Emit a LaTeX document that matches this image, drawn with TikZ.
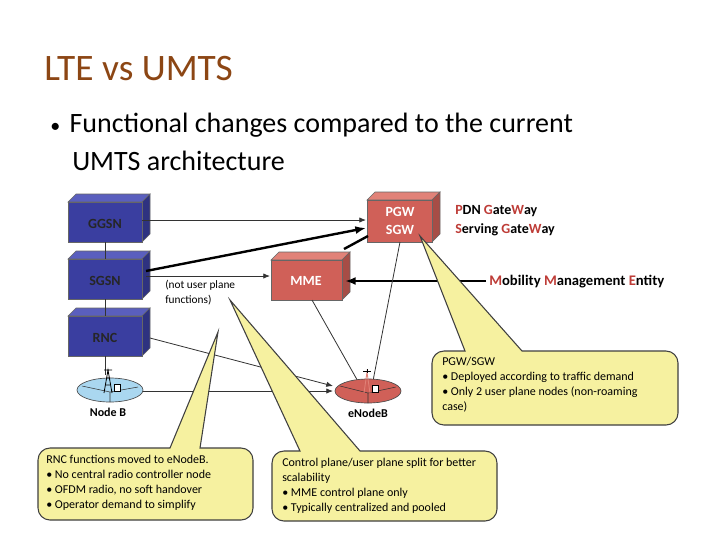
\documentclass[tikz,border=0pt]{standalone}
\usepackage{fontspec}
\setmainfont{Carlito}
\usetikzlibrary{arrows.meta}
\definecolor{titlec}{RGB}{140,70,20}
\definecolor{bluebox}{RGB}{58,62,160}
\definecolor{bluetop}{RGB}{90,95,190}
\definecolor{redbox}{RGB}{208,96,88}
\definecolor{redtop}{RGB}{225,130,120}
\definecolor{redtxt}{RGB}{190,60,55}
\definecolor{callout}{RGB}{246,241,160}
\definecolor{nodeb}{RGB}{170,215,240}
\begin{document}
\begin{tikzpicture}[x=0.75pt,y=-0.75pt,
  lbl/.style={font=\bfseries\fontsize{10.5}{12}\selectfont},
  ctext/.style={font=\fontsize{9}{11.2}\selectfont,align=left,anchor=north west,inner sep=0pt},
  co/.style={fill=callout,draw=black!75,line width=0.8pt},
  ln/.style={draw=black!80,line width=0.6pt},
  thk/.style={draw=black,line width=1.8pt},
  arr/.style={-{Latex[length=5pt,width=4pt]}}]
\useasboundingbox (0,0) rectangle (720,540);
\fill[white] (0,0) rectangle (720,540);
\node[anchor=base west,text=titlec,font=\fontsize{28}{30}\selectfont,inner sep=0pt] (title) at (44,80) {LTE vs UMTS};
\node[anchor=base west,font=\fontsize{21}{26}\selectfont,inner sep=0pt] (b1) at (50,132) {{\fontsize{15}{20}\selectfont\textbullet}\hspace{7pt}Functional changes compared to the current};
\node[anchor=base west,font=\fontsize{21}{26}\selectfont,inner sep=0pt] (b2) at (72,170) {UMTS architecture};
\newcommand{\mycube}[7]{% name,x1,y1,x2,y2,front,top
  \fill[#7,draw=black!60,line width=0.4pt] (#2,#3) -- (#2+8,#3-8) -- (#4+8,#3-8) -- (#4,#3) -- cycle;
  \fill[#6!80!black,draw=black!60,line width=0.4pt] (#4,#3) -- (#4+8,#3-8) -- (#4+8,#5-8) -- (#4,#5) -- cycle;
  \fill[#6,draw=black!60,line width=0.4pt] (#2,#3) rectangle (#4,#5);
  \coordinate (#1) at ({(#2+#4)/2},{(#3+#5)/2});}
\mycube{ggsnc}{68}{202}{142}{242}{bluebox}{bluetop}
\mycube{sgsnc}{68}{259}{142}{299}{bluebox}{bluetop}
\mycube{rncc}{68}{316}{142}{356}{bluebox}{bluetop}
\mycube{pgwc}{367}{200}{432}{242}{redbox}{redtop}
\mycube{mmec}{271}{260}{342}{300}{redbox}{redtop}
\node[lbl,text=black!85] (ggsn) at (105,224) {GGSN};
\node[lbl,text=black!85] (sgsn) at (105,281) {SGSN};
\node[lbl,text=black!85] (rnc) at (105,338) {RNC};
\node[lbl,text=white,align=center,font=\bfseries\fontsize{10.5}{13.5}\selectfont] (pgw) at (400,221) {PGW\\SGW};
\node[lbl,text=white] (mme) at (306,281) {MME};
\node[lbl,anchor=west,inner sep=0pt] (pdn) at (455,211) {\textcolor{redtxt}{P}DN \textcolor{redtxt}{G}ate\textcolor{redtxt}{W}ay};
\node[lbl,anchor=west,inner sep=0pt] (srv) at (455,230) {\textcolor{redtxt}{S}erving \textcolor{redtxt}{G}ate\textcolor{redtxt}{W}ay};
\node[lbl,anchor=west,inner sep=0pt,font=\bfseries\fontsize{11}{12}\selectfont] (mob) at (489,282) {\textcolor{redtxt}{M}obility \textcolor{redtxt}{M}anagement \textcolor{redtxt}{E}ntity};
\node[anchor=north west,align=left,inner sep=0pt,font=\fontsize{8.5}{11}\selectfont] (nup) at (165,280) {(not user plane\\functions)};
\coordinate (nbc) at (110,390);
\coordinate (enbc) at (368,391);
\draw[ln] (105,242) -- (105,259);
\draw[ln] (105,299) -- (105,316);
\draw[ln] (105,356) -- (105,375);
\draw[ln,arr] (142,220) -- (366,220);
\draw[ln,arr] (146,276) -- (270,276);
\draw[thk,-{Latex[length=8pt,width=6pt]}] (146,271) -- (366,228);
\draw[thk] (344,249) -- (368,236);
\draw[thk,-{Latex[length=8pt,width=6pt]}] (486,281) -- (345,281);
\draw[ln] (400,242) -- (372,386);
\draw[ln] (312,300) -- (364,392);
\draw[ln,arr] (150,338) -- (333,386);
\draw[ln,arr] (140,391) -- (333,391);
\draw[fill=nodeb,draw=black!70,line width=0.5pt] (nbc) ellipse (33 and 12);
\draw[ln,line width=0.4pt] (82,386) -- (110,392) -- (138,387) (110,392) -- (110,402);
\draw[line width=0.6pt] (104,393) -- (108,370) -- (112,393) (105,385) -- (111,385) (106,378) -- (110,378) (104,370) -- (112,370);
\draw[fill=white,draw=black] (114,384) rectangle (120,391);
\draw[fill=redbox,draw=black!70,line width=0.5pt] (enbc) ellipse (33 and 12);
\draw[ln,line width=0.4pt] (340,386) -- (368,393) -- (396,387) (368,393) -- (368,403);
\draw[line width=0.6pt,draw=redtop] (364,393) -- (367,372) -- (370,393);
\draw[line width=0.5pt] (363,371) -- (371,371) (367,369) -- (367,373);
\draw[fill=white,draw=black] (372,385) rectangle (378,392);
\node[lbl,font=\bfseries\fontsize{9}{10}\selectfont] (nbl) at (108,412) {Node B};
\node[lbl,font=\bfseries\fontsize{9}{10}\selectfont] (enbl) at (368,413) {eNodeB};
\draw[co] (465,351) -- (420,236) -- (522,351) {[rounded corners=9] -- (678,351) -- (678,425) -- (432,425) -- (432,351)} -- cycle;
\node[ctext] (c1) at (442,357) {PGW/SGW\\\textbullet\ Deployed according to traffic demand\\\textbullet\ Only 2 user plane nodes (non-roaming\\case)};
\draw[co] (170,448) -- (218,332) -- (200,448) {[rounded corners=9] -- (253,448) -- (253,520) -- (38,520) -- (38,448)} -- cycle;
\node[ctext] (c2) at (46,455) {RNC functions moved to eNodeB.\\\textbullet\ No central radio controller node\\\textbullet\ OFDM radio, no soft handover\\\textbullet\ Operator demand to simplify};
\draw[co] (300,451) -- (230,300) -- (360,451) {[rounded corners=9] -- (497,451) -- (497,521) -- (272,521) -- (272,451)} -- cycle;
\node[ctext] (c3) at (282,458) {Control plane/user plane split for better\\scalability\\\textbullet\ MME control plane only\\\textbullet\ Typically centralized and pooled};
\end{tikzpicture}
\end{document}
